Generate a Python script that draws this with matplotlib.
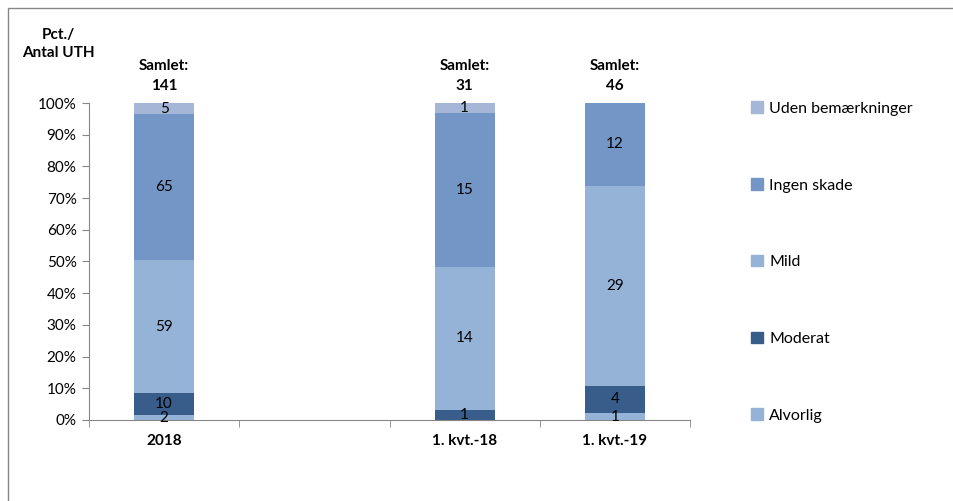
import matplotlib.pyplot as plt
from matplotlib.patches import Rectangle, Patch

plt.rcParams['font.family'] = ['Lato', 'DejaVu Sans']

# Data
categories = ['2018', '', '1. kvt.-18', '1. kvt.-19']
series_names = ['Alvorlig', 'Moderat', 'Mild', 'Ingen skade', 'Uden bemærkninger']
alvorlig = [2, 0, 0, 1]
moderat = [10, 0, 1, 4]
mild = [59, 0, 14, 29]
ingen_skade = [65, 0, 15, 12]
uden_bem = [5, 0, 1, 0]
totals = [141, None, 31, 46]

colors = ['#95b3d7', '#385d8a', '#95b3d7', '#7396c6', '#a5b6d6']
series = [alvorlig, moderat, mild, ingen_skade, uden_bem]

fig = plt.figure(figsize=(9.54, 5.01), dpi=100)
ax = fig.add_axes([0.0933, 0.1617, 0.63, 0.6327])

x = list(range(len(categories)))
bottoms = [0.0] * len(categories)
for name, vals, col in zip(series_names, series, colors):
    shares = [v / t if t else 0 for v, t in zip(vals, totals)]
    ax.bar(x, shares, width=0.4, bottom=bottoms, color=col, label=name, edgecolor='none')
    for xi, v, s, b0 in zip(x, vals, shares, bottoms):
        if totals[xi] and v > 0:
            ax.text(xi, b0 + s / 2, str(v), ha='center', va='center', fontsize=11, color='black')
    bottoms = [b0 + s for b0, s in zip(bottoms, shares)]

# "Samlet" totals above bars
for xi, t in zip(x, totals):
    if t:
        ax.text(xi, 1.053, str(t), ha='center', va='center', fontsize=11, fontweight='bold')
        ax.text(xi, 1.118, 'Samlet:', ha='center', va='center', fontsize=11, fontweight='bold')

ax.set_xlim(-0.5, 3.5)
ax.set_ylim(0, 1)
ax.set_yticks([i / 10 for i in range(11)])
ax.set_yticklabels([f'{i * 10}%' for i in range(11)], fontsize=11)
ax.set_xticks(x)
ax.set_xticklabels(categories, fontsize=11, fontweight='bold')
ax.tick_params(axis='x', length=0, pad=10)
ax.set_xticks([-0.5, 0.5, 1.5, 2.5, 3.5], minor=True)
ax.tick_params(axis='x', which='minor', length=5, color='#868686')
ax.tick_params(axis='y', length=5, color='#868686', pad=4)

for side in ['top', 'right']:
    ax.spines[side].set_visible(False)
for side in ['left', 'bottom']:
    ax.spines[side].set_color('#868686')

fig.text(58 / 954, 1 - 44 / 501, 'Pct./\nAntal UTH', ha='center', va='center',
         fontsize=11, fontweight='bold', linespacing=1.4)

# Legend (reversed order, spread out)
handles = [Patch(color=c, label=n) for n, c in zip(series_names, colors)][::-1]
fig.legend(handles=handles, loc='upper left', bbox_to_anchor=(0.772, 1 - 87 / 501),
           frameon=False, fontsize=11.5, labelspacing=3.9, handlelength=0.75,
           handleheight=0.75, handletextpad=0.4)

# outer chart border
fig.patches.append(Rectangle((8 / 954, -0.1), 1.2, 1 - 8 / 501 + 0.1,
                             transform=fig.transFigure, fill=False,
                             edgecolor='#868686', linewidth=1))

fig.savefig('out.png', dpi=100)
